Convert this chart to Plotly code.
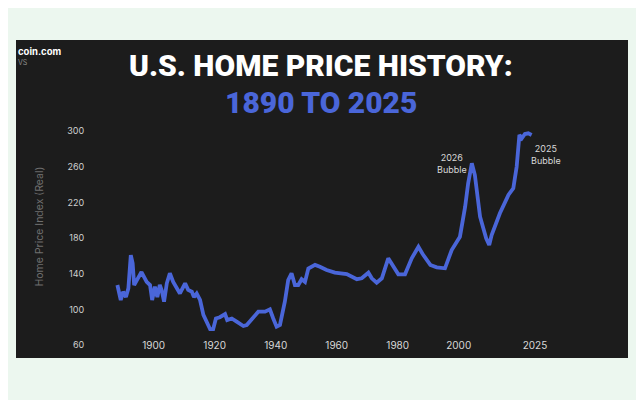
import plotly.graph_objects as go

years = [1888.1, 1889.2, 1890.0, 1890.9, 1891.7, 1892.5, 1893.1, 1893.6, 1894.5, 1896.0,
         1897.7, 1898.8, 1899.5, 1900.4, 1901.2, 1902.0, 1902.6, 1903.4, 1904.3, 1905.3,
         1906.4, 1908.6, 1910.3, 1911.3, 1912.5, 1913.2, 1914.1, 1915.2, 1916.3, 1917.4,
         1918.5, 1919.5, 1920.4, 1921.7, 1923.4, 1924.1, 1925.6, 1927.2, 1929.4, 1930.5,
         1932.7, 1934.3, 1936.5, 1938.1, 1939.2, 1940.3, 1941.4, 1943.0, 1944.1, 1945.2,
         1946.3, 1947.4, 1948.5, 1949.6, 1950.7, 1952.9, 1954.5, 1956.7, 1959.4, 1963.3,
         1966.6, 1968.2, 1970.4, 1971.5, 1973.1, 1974.8, 1976.9, 1978.6, 1980.2, 1982.4,
         1984.6, 1986.8, 1988.4, 1990.7, 1992.8, 1995.5, 1997.7, 2000.4, 2002.1, 2003.1,
         2004.3, 2005.3, 2007.0, 2009.0, 2010.0, 2010.8, 2013.5, 2016.3, 2017.9, 2019.0,
         2019.9, 2020.7, 2021.7, 2022.8, 2023.9]
price_index = [127.5, 110.7, 120, 114, 123.8, 161, 151.8, 127.5, 133, 142,
               131, 127.5, 110.7, 125.6, 114, 127.5, 122, 108.8, 129.4, 140.6,
               131, 118, 129.4, 122, 120, 114, 118, 110.7, 94, 84.6,
               78, 78, 90, 91.4, 95, 88.3, 90, 86.4, 81.6, 82.7,
               92, 97.6, 97.6, 100.3, 90, 80.8, 82.7, 108.8, 133, 140.6,
               127.5, 127.5, 134, 131, 146, 150, 148, 144.3, 141.3, 139.8,
               134, 135, 141.3, 135, 130, 135, 157.4, 148, 139.5, 139.5,
               157.4, 170.4, 161, 150, 147.3, 146.2, 166.7, 181.6, 215, 241.4,
               263.8, 250.7, 204, 179.8, 172.3, 183.5, 207.8, 228.3, 235.8, 260,
               295.5, 291.8, 296.6, 297.4, 295.5]

x_ticks = [1900, 1920, 1940, 1960, 1980, 2000, 2025]
y_ticks = [60, 100, 140, 180, 220, 260, 300]

notes = ["2026<br>Bubble", "2025<br>Bubble"]
note_x = [1997.7, 2028.6]
note_y = [263.6, 273.7]

blue = '#4a66d9'
title_font = 'Roboto, Inter, sans-serif'

fig = go.Figure()
fig.add_trace(go.Scatter(x=years, y=price_index, mode='lines',
                         line=dict(color=blue, width=3.8), hoverinfo='skip'))

fig.update_layout(
    width=644, height=400,
    margin=dict(l=92, r=42, t=112, b=48),
    paper_bgcolor='#ecf7ef', plot_bgcolor='rgba(0,0,0,0)',
    showlegend=False,
    font=dict(family='Inter, Roboto, sans-serif', color='#d0d0d0', size=9),
)

# dark panel behind the chart
fig.add_shape(type='rect', xref='paper', yref='paper', x0=-84/510, x1=528/510,
              y0=2/240, y1=320/240, fillcolor='#1c1c1c', line_width=0, layer='below')

fig.update_xaxes(range=[1882.4, 2049.6], tickvals=x_ticks, showgrid=False, zeroline=False,
                 showline=False, anchor='free', position=0.092,
                 tickfont=dict(size=10, color='#d8d8d8'))
fig.update_yaxes(range=[43.5, 312.3], tickvals=y_ticks, showgrid=False, zeroline=False,
                 showline=False, ticks='outside', ticklen=13, tickcolor='rgba(0,0,0,0)',
                 tickfont=dict(size=9, color='#cfcfcf'))

# y axis title, placed by hand so it sits a little above the middle like the original
fig.add_annotation(x=-70/510, y=133/240, xref='paper', yref='paper', textangle=-90,
                   text='Home Price Index (Real)', showarrow=False,
                   font=dict(size=10.5, color='#6f6f6f'))

fig.add_annotation(x=221/510, y=294/240, xref='paper', yref='paper', yanchor='middle',
                   text='U.S. HOME PRICE HISTORY:', showarrow=False,
                   font=dict(family=title_font, size=30, color='white', weight=900))
fig.add_annotation(x=221/510, y=258/240, xref='paper', yref='paper', yanchor='middle',
                   text='1890 TO 2025', showarrow=False,
                   font=dict(family=title_font, size=30, color=blue, weight=900))
fig.add_annotation(x=-84/510, y=308/240, xref='paper', yref='paper', xanchor='left', yanchor='middle',
                   text='<b>coin.com</b>', showarrow=False, font=dict(size=9.5, color='white'))
fig.add_annotation(x=-84/510, y=297/240, xref='paper', yref='paper', xanchor='left', yanchor='middle',
                   text='VS', showarrow=False, font=dict(size=7, color='#8a8a8a'))

for t, nx, ny in zip(notes, note_x, note_y):
    fig.add_annotation(x=nx, y=ny, text=t, showarrow=False,
                       font=dict(size=9, color='#d8d8d8'))

fig.write_html('out.html')
